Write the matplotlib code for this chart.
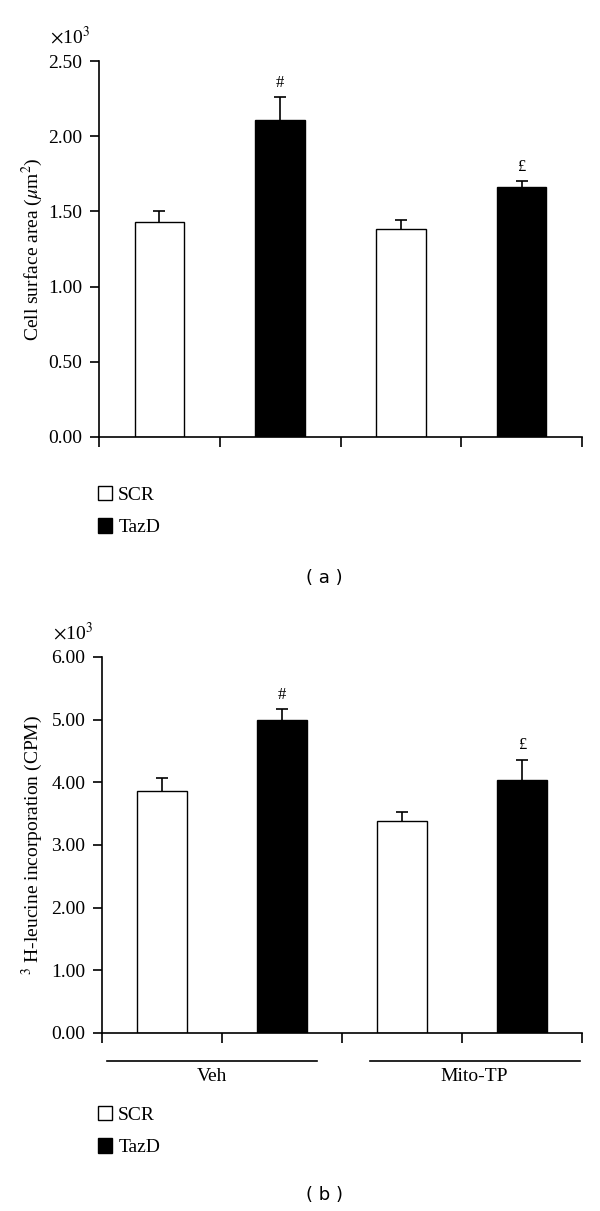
import numpy as np
import matplotlib
matplotlib.use("Agg")
import matplotlib.pyplot as plt
from matplotlib.patches import Patch
import matplotlib.transforms as mtransforms

plt.rcParams['font.family'] = ['Liberation Serif', 'DejaVu Serif']
plt.rcParams['mathtext.fontset'] = 'stix'

# data (values in x10^3)
positions = [0.5, 1.5, 2.5, 3.5]
groups = ['SCR', 'TazD', 'SCR', 'TazD']
area_mean = [1.43, 2.11, 1.38, 1.66]
area_err = [0.07, 0.15, 0.06, 0.04]
area_marks = ['', '#', '', '£']
leucine_mean = [3.86, 4.99, 3.38, 4.03]
leucine_err = [0.21, 0.18, 0.14, 0.33]
leucine_marks = ['', '#', '', '£']
treatments = ['Veh', 'Mito-TP']
treatment_span = [(0.04, 1.79), (2.23, 3.98)]

colors = {'SCR': 'white', 'TazD': 'black'}
FS = 14

fig = plt.figure(figsize=(6, 12.11), dpi=100)
ax1 = fig.add_axes([0.165, 0.6392, 0.805, 0.3104])
ax2 = fig.add_axes([0.170, 0.1470, 0.800, 0.3105])


def draw_panel(ax, mean, err, marks, ymax, step, ylabel, mark_off):
    cols = [colors[g] for g in groups]
    ax.bar(positions, mean, width=0.41, color=cols, edgecolor='black',
           linewidth=1.0, zorder=2)
    eb = ax.errorbar(positions, mean, yerr=[np.zeros(len(err)), err], fmt='none',
                     ecolor='black', elinewidth=1.2, capsize=4, capthick=1.2, zorder=1)
    # only the upper half of the error bar is shown
    eb[1][0].set_visible(False)
    for x, m, e, s in zip(positions, mean, err, marks):
        if s:
            ax.text(x, m + e + mark_off, s, ha='center', va='bottom', fontsize=12)
    ax.set_xlim(0, 4)
    ax.set_ylim(0, ymax)
    ax.set_yticks(np.arange(0, ymax + step / 2, step))
    ax.yaxis.set_major_formatter(matplotlib.ticker.FormatStrFormatter('%.2f'))
    ax.set_xticks([0, 1, 2, 3, 4])
    ax.set_xticklabels([])
    ax.spines['top'].set_visible(False)
    ax.spines['right'].set_visible(False)
    for sp in ('left', 'bottom'):
        ax.spines[sp].set_linewidth(1.2)
    ax.tick_params(axis='y', direction='out', length=6.5, width=1.2, pad=5.5, labelsize=FS)
    ax.tick_params(axis='x', direction='out', length=7.5, width=1.2)
    ax.set_ylabel(ylabel, fontsize=FS)
    ax.text(-0.102, 1.035, r'$\times$10$^3$', transform=ax.transAxes, fontsize=FS,
            ha='left', va='bottom')


draw_panel(ax1, area_mean, area_err, area_marks, 2.5, 0.5,
           r'Cell surface area ($\mu$m$^2$)', 0.04)
ax1.yaxis.set_label_coords(-0.112, 0.5)

draw_panel(ax2, leucine_mean, leucine_err, leucine_marks, 6.0, 1.0,
           r'$^3$ H-leucine incorporation (CPM)', 0.1)
ax2.yaxis.set_label_coords(-0.119, 0.5)

# treatment group lines under the lower panel
trans = mtransforms.blended_transform_factory(ax2.transData, ax2.transAxes)
for name, (x0, x1) in zip(treatments, treatment_span):
    ax2.plot([x0, x1], [-0.0745, -0.0745], color='black', linewidth=1.2,
             transform=trans, clip_on=False)
    ax2.text((x0 + x1) / 2, -0.092, name, transform=trans, ha='center', va='top',
             fontsize=FS)

handles = [Patch(facecolor='white', edgecolor='black', linewidth=1.0),
           Patch(facecolor='black', edgecolor='black', linewidth=1.0)]
for anchor in ((0.163, 0.5987), (0.163, 0.0867)):
    fig.legend(handles, ['SCR', 'TazD'], loc='upper left', bbox_to_anchor=anchor,
               frameon=False, fontsize=FS, handlelength=0.75, handleheight=0.75,
               handletextpad=0.3, labelspacing=0.74, borderpad=0, borderaxespad=0)

fig.text(0.54, 0.523, '( a )', ha='center', va='center', fontsize=13,
         family='DejaVu Sans')
fig.text(0.54, 0.013, '( b )', ha='center', va='center', fontsize=13,
         family='DejaVu Sans')

fig.savefig('out.png', dpi=100)
